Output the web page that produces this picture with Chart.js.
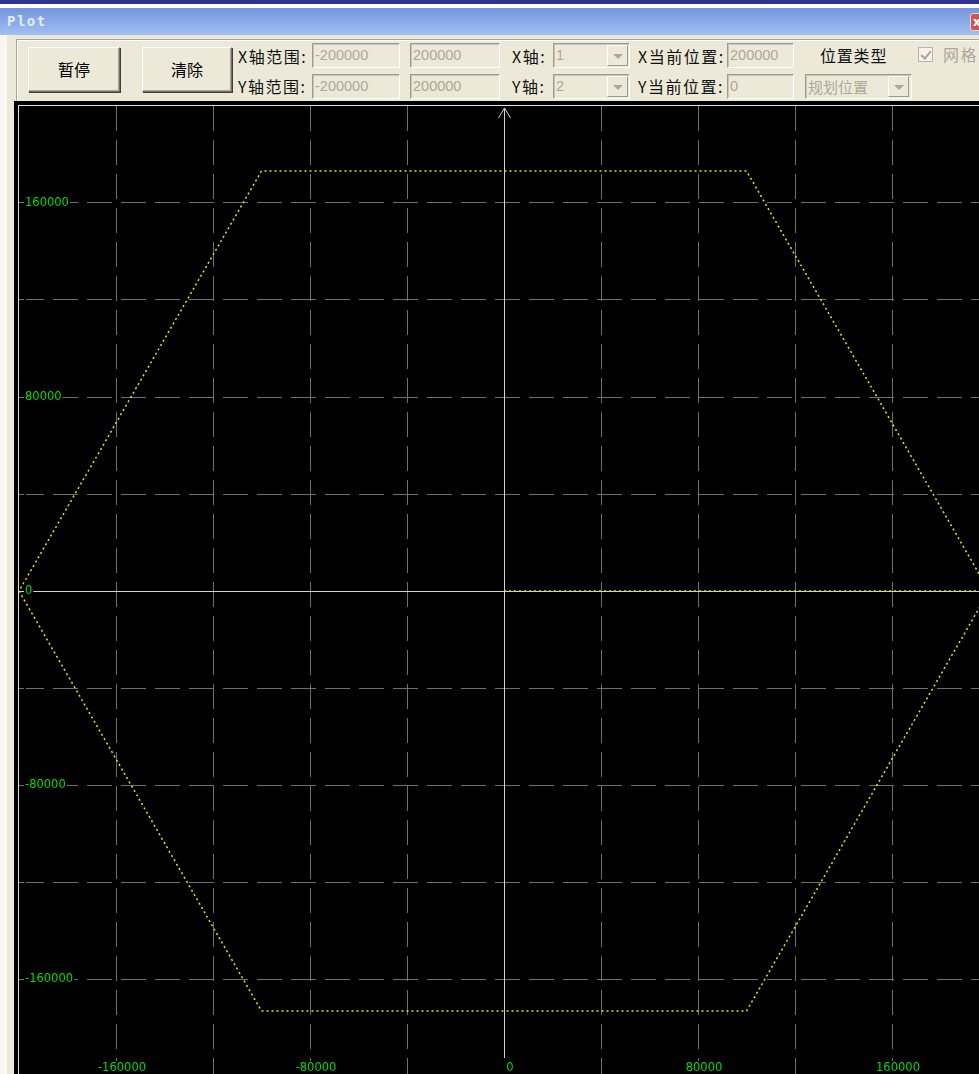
<!DOCTYPE html>
<html>
<head>
<meta charset="utf-8">
<script src="https://cdn.jsdelivr.net/npm/chart.js@4/dist/chart.umd.min.js"></script>
<style>
    html, body { margin: 0; padding: 0; }
    body {
        width: 979px;
        height: 1074px;
        overflow: hidden;
        position: relative;
        background: #ece9d8;
        font-family: "Noto Sans CJK SC", sans-serif;
    }
    .abs { position: absolute; box-sizing: border-box; }
    .topstrip { left: 0; top: 0; width: 979px; height: 4px; background: #30338f; }
    .whitestrip { left: 0; top: 4px; width: 979px; height: 4px; background: #ffffff; }
    .titlebar {
        left: 0; top: 8px; width: 979px; height: 27px;
        background: linear-gradient(to bottom, #7596dd, #8eaeea 60%, #a4bff0);
    }
    .title {
        left: 7px; top: 13px;
        font: bold 14px "DejaVu Sans Mono", monospace;
        letter-spacing: 1.5px;
        color: #e4ebf8;
    }
    .close {
        left: 970px; top: 13px; width: 16px; height: 18px;
        background: #c8584f; border: 1px solid #f0d0d0; border-radius: 3px;
        color: #fff; font: bold 12px "DejaVu Sans"; line-height: 16px; padding-left: 2px;
    }
    .winedge { left: 0; top: 35px; width: 7px; height: 1039px; background: #f8f7f2; }
    .group {
        left: 16px; top: 39px; width: 980px; height: 62px;
        border-top: 1px solid #aca899; border-left: 1px solid #aca899;
        box-shadow: inset 1px 1px 0 #ffffff;
    }
    .btn {
        background: #ece9d8;
        border: 1px solid; border-color: #ffffff #716f64 #716f64 #ffffff;
        box-shadow: inset -1px -1px 0 #aca899, 1px 1px 0 #3f3e38;
        font-size: 16px; color: #000; text-align: center; line-height: 42px;
    }
    .lbl { font-size: 16px; letter-spacing: 1.5px; color: #111; line-height: 20px; white-space: nowrap; }
    .edit {
        height: 25px;
        border: 1px solid; border-color: #9d9a8f #ffffff #ffffff #9d9a8f;
        box-shadow: inset 1px 1px 0 #c9c6b8;
        font: 14.5px "Liberation Sans", sans-serif; color: #aca899;
        padding-left: 2px; line-height: 23px; white-space: nowrap; overflow: hidden;
    }
    .drop {
        width: 21px; height: 21px;
        border: 1px solid; border-color: #ffffff #9d9a8f #9d9a8f #ffffff;
        background: #ece9d8;
    }
    .drop::after {
        content: ""; position: absolute; left: 5px; top: 8px;
        border-left: 5px solid transparent; border-right: 5px solid transparent;
        border-top: 5px solid #aca899;
    }
    .check {
        left: 918px; top: 47px; width: 15px; height: 15px;
        border: 1px solid #b8b5a8; background: #f4f3ee;
    }
    .check::after {
        content: ""; position: absolute; left: 4px; top: 1px; width: 4px; height: 8px;
        border-right: 2px solid #a8a598; border-bottom: 2px solid #a8a598;
        transform: rotate(40deg);
    }
    .plotback { left: 14px; top: 101px; width: 980px; height: 980px; background: #000; }
    .frame {
        left: 18px; top: 105px; width: 980px; height: 980px;
        border-left: 1px solid #dcdcdc; border-top: 1px solid #dcdcdc;
    }
    #plot { position: absolute; left: 19px; top: 106px; background: #000; }
</style>
</head>
<body>
<div class="abs topstrip"></div>
<div class="abs whitestrip"></div>
<div class="abs titlebar"></div>
<div class="abs title">Plot</div>
<div class="abs close">x</div>
<div class="abs winedge"></div>

<div class="abs group"></div>
<div class="abs btn" style="left:28px;top:47px;width:92px;height:45px;">暂停</div>
<div class="abs btn" style="left:142px;top:47px;width:90px;height:45px;">清除</div>

<div class="abs lbl" style="left:238px;top:46px;">X轴范围:</div>
<div class="abs lbl" style="left:238px;top:76px;">Y轴范围:</div>
<div class="abs edit" style="left:312px;top:43px;width:88px;">-200000</div>
<div class="abs edit" style="left:410px;top:43px;width:90px;">200000</div>
<div class="abs edit" style="left:312px;top:74px;width:88px;">-200000</div>
<div class="abs edit" style="left:410px;top:74px;width:90px;">200000</div>

<div class="abs lbl" style="left:512px;top:46px;">X轴:</div>
<div class="abs lbl" style="left:512px;top:76px;">Y轴:</div>
<div class="abs edit" style="left:553px;top:43px;width:77px;">1</div>
<div class="abs drop" style="left:607px;top:45px;"></div>
<div class="abs edit" style="left:553px;top:74px;width:77px;">2</div>
<div class="abs drop" style="left:607px;top:76px;"></div>

<div class="abs lbl" style="left:638px;top:46px;">X当前位置:</div>
<div class="abs lbl" style="left:638px;top:76px;">Y当前位置:</div>
<div class="abs edit" style="left:727px;top:43px;width:67px;">200000</div>
<div class="abs edit" style="left:727px;top:74px;width:67px;">0</div>

<div class="abs lbl" style="left:820px;top:45px;letter-spacing:0.8px;">位置类型</div>
<div class="abs check"></div>
<div class="abs lbl" style="left:943px;top:44px;color:#aca899;">网格</div>
<div class="abs edit" style="left:805px;top:74px;width:107px;font:15px 'Noto Sans CJK SC';line-height:23px;">规划位置</div>
<div class="abs drop" style="left:888px;top:76px;"></div>

<div class="abs plotback"></div>
<div class="abs frame"></div>
<canvas id="plot" width="970" height="970"></canvas>

<script>
// trace of the planned position (X axis 1 vs Y axis 2)
const traceX = [0, 200000, 100000, -100000, -200000, -100000, 100000, 200000];
const traceY = [0, 0, 173205, 173205, 0, -173205, -173205, 0];

const axisMin = -200000;
const axisMax = 200000;
const gridStep = 40000;
const labelStep = 80000;

const traceColor = '#e8e800';
const gridColor = '#707070';
const axisColor = '#d2d2d2';
const labelColor = '#00dc00';

function gridLineColor(ctx) {
    const v = ctx.tick ? ctx.tick.value : null;
    if (v === 0 || v === axisMin || v === axisMax) {
        return 'rgba(0,0,0,0)';
    }
    return gridColor;
}

// the plot fills the whole canvas: no room kept for labels
function noMargins(scale) {
    scale.paddingTop = 0;
    scale.paddingBottom = 0;
    scale.paddingLeft = 0;
    scale.paddingRight = 0;
    if (scale.isHorizontal()) {
        scale.height = 0;
    } else {
        scale.width = 0;
    }
}

// white cross through the origin, with the arrow on top of the Y axis
const crossAxes = {
    id: 'crossAxes',
    beforeDatasetsDraw(chart) {
        const { ctx, chartArea, scales } = chart;
        const x0 = Math.round(scales.x.getPixelForValue(0)) + 0.5;
        const y0 = Math.round(scales.y.getPixelForValue(0)) + 0.5;
        ctx.save();
        ctx.strokeStyle = axisColor;
        ctx.lineWidth = 1;
        ctx.beginPath();
        ctx.moveTo(chartArea.left, y0);
        ctx.lineTo(chartArea.right, y0);
        ctx.moveTo(x0, chartArea.top + 2);
        ctx.lineTo(x0, chartArea.bottom - 18);
        ctx.moveTo(x0 - 6, chartArea.top + 12);
        ctx.lineTo(x0, chartArea.top + 2);
        ctx.lineTo(x0 + 6, chartArea.top + 12);
        ctx.stroke();
        ctx.restore();
    },
};

// x tick labels sit inside the plot, just above its bottom edge
const bottomLabels = {
    id: 'bottomLabels',
    afterDraw(chart) {
        const { ctx, chartArea, scales } = chart;
        ctx.save();
        ctx.font = '11.5px "DejaVu Sans"';
        ctx.textAlign = 'center';
        ctx.textBaseline = 'middle';
        scales.x.ticks.forEach((tick) => {
            if (tick.value % labelStep !== 0) {
                return;
            }
            const label = String(tick.value);
            const px = scales.x.getPixelForValue(tick.value) + 6;
            const py = chartArea.bottom - 8;
            const w = ctx.measureText(label).width;
            ctx.fillStyle = '#000';
            ctx.fillRect(px - w / 2 - 1, py - 7, w + 2, 14);
            ctx.fillStyle = labelColor;
            ctx.fillText(label, px, py);
        });
        ctx.restore();
    },
};

const points = traceX.map((x, i) => ({ x: x, y: traceY[i] }));

new Chart(document.getElementById('plot').getContext('2d'), {
    type: 'scatter',
    data: {
        datasets: [
            {
                data: points,
                showLine: true,
                borderColor: traceColor,
                borderWidth: 1.5,
                borderDash: [2, 3],
                pointRadius: 0,
                fill: false,
            },
        ],
    },
    options: {
        responsive: false,
        animation: false,
        devicePixelRatio: 1,
        layout: { padding: 0 },
        plugins: {
            legend: { display: false },
            tooltip: { enabled: false },
        },
        scales: {
            x: {
                type: 'linear',
                min: axisMin,
                max: axisMax,
                afterFit: noMargins,
                border: { display: false, dash: [25, 9] },
                grid: { color: gridLineColor, lineWidth: 1, drawTicks: false },
                ticks: { display: false, stepSize: gridStep },
            },
            y: {
                type: 'linear',
                min: axisMin,
                max: axisMax,
                afterFit: noMargins,
                border: { display: false, dash: [25, 9] },
                grid: { color: gridLineColor, lineWidth: 1, drawTicks: false },
                ticks: {
                    stepSize: gridStep,
                    mirror: true,
                    padding: 6,
                    z: 1,
                    color: labelColor,
                    font: { family: 'DejaVu Sans', size: 11.5 },
                    showLabelBackdrop: true,
                    backdropColor: '#000',
                    backdropPadding: 1,
                    callback: (value) => (value % labelStep === 0 ? String(value) : ''),
                },
            },
        },
    },
    plugins: [crossAxes, bottomLabels],
});
</script>
</body>
</html>
